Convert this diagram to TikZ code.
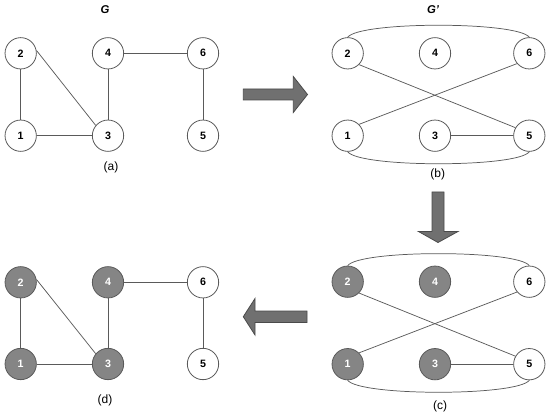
\documentclass[tikz,border=0pt]{standalone}
\usepackage{fontspec}
\setmainfont{Liberation Sans}
\definecolor{vline}{HTML}{5A5A5A}
\definecolor{gfill}{HTML}{858585}
\definecolor{afill}{HTML}{707070}
\definecolor{aline}{HTML}{4A4A4A}

\begin{document}
\begin{tikzpicture}[x=0.75pt,y=-0.75pt,line width=.6pt,
  vtx/.style={circle,draw=vline,fill=white,minimum size=23.5pt,inner sep=0pt,font=\fontsize{8}{9}\selectfont\bfseries},
  gvtx/.style={vtx,fill=gfill,text=white},
  edge/.style={draw=vline,line width=.55pt},
  caption/.style={inner sep=1pt,font=\fontsize{9}{11}\selectfont},
  title/.style={inner sep=1pt,font=\fontsize{8.5}{10}\selectfont\bfseries\itshape},
  blockarrow/.style={draw=aline,fill=afill,line width=.6pt,line join=miter}]
\path[use as bounding box] (0,0) rectangle (550,417);
% (a) the graph G
\node[title] (tG) at (105,10) {G};
\node[vtx] (a2) at (20.7,53.3) {2};
\node[vtx] (a4) at (108,53.3) {4};
\node[vtx] (a6) at (203,53.3) {6};
\node[vtx] (a1) at (20.7,135.7) {1};
\node[vtx] (a3) at (108,135.7) {3};
\node[vtx] (a5) at (203,135.7) {5};
\node[caption] (ca) at (111,167) {(a)};
\draw[edge] (a2) -- (a1);
\draw[edge] (a2.10) -- (a3.140);
\draw[edge] (a1) -- (a3);
\draw[edge] (a4) -- (a3);
\draw[edge] (a4) -- (a6);
\draw[edge] (a6) -- (a5);
% (b) the graph G'
\node[title] (tGp) at (433,10) {G'};
\node[vtx] (b2) at (347.7,53.3) {2};
\node[vtx] (b4) at (435,53.3) {4};
\node[vtx] (b6) at (529.3,53.3) {6};
\node[vtx] (b1) at (347.7,135.7) {1};
\node[vtx] (b3) at (435,135.7) {3};
\node[vtx] (b5) at (529.3,135.7) {5};
\node[caption] (cb) at (437.7,174) {(b)};
\draw[edge] (b2.north) .. controls +(12,-16) and +(-12,-16) .. (b6.north);
\draw[edge] (b1.south) .. controls +(12,16) and +(-12,16) .. (b5.south);
\draw[edge] (b2.-45) -- (b5.150);
\draw[edge] (b1.45) -- (b6.-140);
\draw[edge] (b3) -- (b5);
% (c) G' with the cover
\node[gvtx] (c2) at (347.7,281.7) {2};
\node[gvtx] (c4) at (435,281.7) {4};
\node[vtx] (c6) at (529.3,281.7) {6};
\node[gvtx] (c1) at (347.7,364.2) {1};
\node[gvtx] (c3) at (435,364.2) {3};
\node[vtx] (c5) at (529.3,364.2) {5};
\node[caption] (cc) at (440,406.5) {(c)};
\draw[edge] (c2.north) .. controls +(12,-16) and +(-12,-16) .. (c6.north);
\draw[edge] (c1.south) .. controls +(12,16) and +(-12,16) .. (c5.south);
\draw[edge] (c2.-45) -- (c5.150);
\draw[edge] (c1.45) -- (c6.-140);
\draw[edge] (c3) -- (c5);
% (d) G with the cover
\node[gvtx] (d2) at (20.7,282.3) {2};
\node[gvtx] (d4) at (108,282.3) {4};
\node[vtx] (d6) at (203,282.3) {6};
\node[gvtx] (d1) at (20.7,364) {1};
\node[gvtx] (d3) at (108,364) {3};
\node[vtx] (d5) at (203,364) {5};
\node[caption] (cd) at (105,400) {(d)};
\draw[edge] (d2) -- (d1);
\draw[edge] (d2.10) -- (d3.140);
\draw[edge] (d1) -- (d3);
\draw[edge] (d4) -- (d3);
\draw[edge] (d4) -- (d6);
\draw[edge] (d6) -- (d5);
% block arrows
\draw[blockarrow] (243.3,89) -- (293.3,89) -- (293.3,76.5) -- (307.5,94.5) -- (293.3,112.5) -- (293.3,100) -- (243.3,100) -- cycle;
\draw[blockarrow] (432,192) -- (444,192) -- (444,231.5) -- (458,231.5) -- (438,242.5) -- (418.5,231.5) -- (432,231.5) -- cycle;
\draw[blockarrow] (307,311) -- (255,311) -- (255,298.5) -- (243.3,316.7) -- (255,335) -- (255,322.5) -- (307,322.5) -- cycle;
\end{tikzpicture}
\end{document}
